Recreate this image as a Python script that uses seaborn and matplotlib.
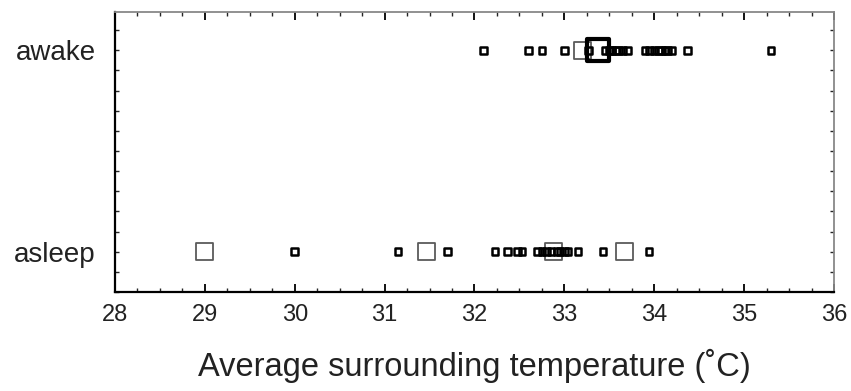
import numpy as np
import pandas as pd
import matplotlib
matplotlib.use("Agg")
import matplotlib.pyplot as plt
from matplotlib.ticker import MultipleLocator
import seaborn as sns

categories = ["asleep", "awake"]

awake_temps = [32.1, 32.6, 32.75, 33.0, 33.2, 33.27, 33.37, 33.45, 33.5, 33.53,
               33.57, 33.6, 33.65, 33.7, 33.9, 33.95, 34.0, 34.05, 34.08, 34.12,
               34.15, 34.2, 34.37, 35.3]
awake_kind = ["small", "small", "small", "small", "large", "small", "bold", "small",
              "small", "small", "small", "small", "small", "small", "small", "small",
              "small", "small", "small", "small", "small", "small", "small", "small"]

asleep_temps = [29.0, 30.0, 31.15, 31.47, 31.7, 32.23, 32.37, 32.48, 32.53, 32.7,
                32.75, 32.8, 32.85, 32.88, 32.92, 32.95, 33.0, 33.04, 33.15, 33.43,
                33.67, 33.94]
asleep_kind = ["large", "small", "small", "large", "small", "small", "small", "small",
               "small", "small", "small", "small", "small", "large", "small", "small",
               "small", "small", "small", "small", "large", "small"]

x_ticks = [28, 29, 30, 31, 32, 33, 34, 35, 36]
x_label = "Average surrounding temperature (˚C)"

df = pd.DataFrame({
    "state": ["awake"] * len(awake_temps) + ["asleep"] * len(asleep_temps),
    "temp": awake_temps + asleep_temps,
    "kind": awake_kind + asleep_kind,
})
df["ypos"] = df["state"].map({c: i for i, c in enumerate(categories)})

sns.set_theme(style="white")
plt.rcParams["font.family"] = ["Liberation Sans", "DejaVu Sans"]

fig = plt.figure(figsize=(8.51, 3.91), dpi=100)
ax = fig.add_axes([0.1351, 0.2532, 0.8449, 0.7161])

styles = {
    "large": dict(s=150, edgecolor="#5a5a5a", linewidth=1.3, zorder=2),
    "small": dict(s=22, edgecolor="black", linewidth=1.8, zorder=3),
    "bold": dict(s=250, edgecolor="black", linewidth=3.0, zorder=4),
}
for kind, st in styles.items():
    sub = df[df["kind"] == kind]
    sns.scatterplot(data=sub, x="temp", y="ypos", marker="s", facecolor="none",
                    ax=ax, legend=False, **st)

ax.set_xlim(28, 36)
ax.set_ylim(-0.2, 1.19)
ax.set_xticks(x_ticks)
ax.set_xticklabels([str(t) for t in x_ticks], fontsize=17)
ax.xaxis.set_minor_locator(MultipleLocator(0.25))
ax.set_yticks(range(len(categories)))
ax.set_yticklabels(categories, fontsize=20)
ax.yaxis.set_minor_locator(MultipleLocator(0.1))

ax.tick_params(axis="x", which="major", direction="in", length=6, width=1.3,
               top=True, bottom=True, pad=9, colors="black", labelcolor="#222222")
ax.tick_params(axis="x", which="minor", direction="in", length=3, width=1,
               top=True, bottom=True)
ax.tick_params(axis="y", which="major", direction="in", length=3, width=1,
               left=True, right=True, pad=14, labelcolor="#222222")
ax.tick_params(axis="y", which="minor", direction="in", length=3, width=1,
               left=True, right=True)

for side in ["left", "bottom"]:
    ax.spines[side].set_color("black")
    ax.spines[side].set_linewidth(1.6)
for side in ["top", "right"]:
    ax.spines[side].set_color("#888888")
    ax.spines[side].set_linewidth(1.3)

ax.set_xlabel(x_label, fontsize=23.5, labelpad=16, color="#222222")
ax.set_ylabel("")

fig.savefig("out.png", dpi=100)
